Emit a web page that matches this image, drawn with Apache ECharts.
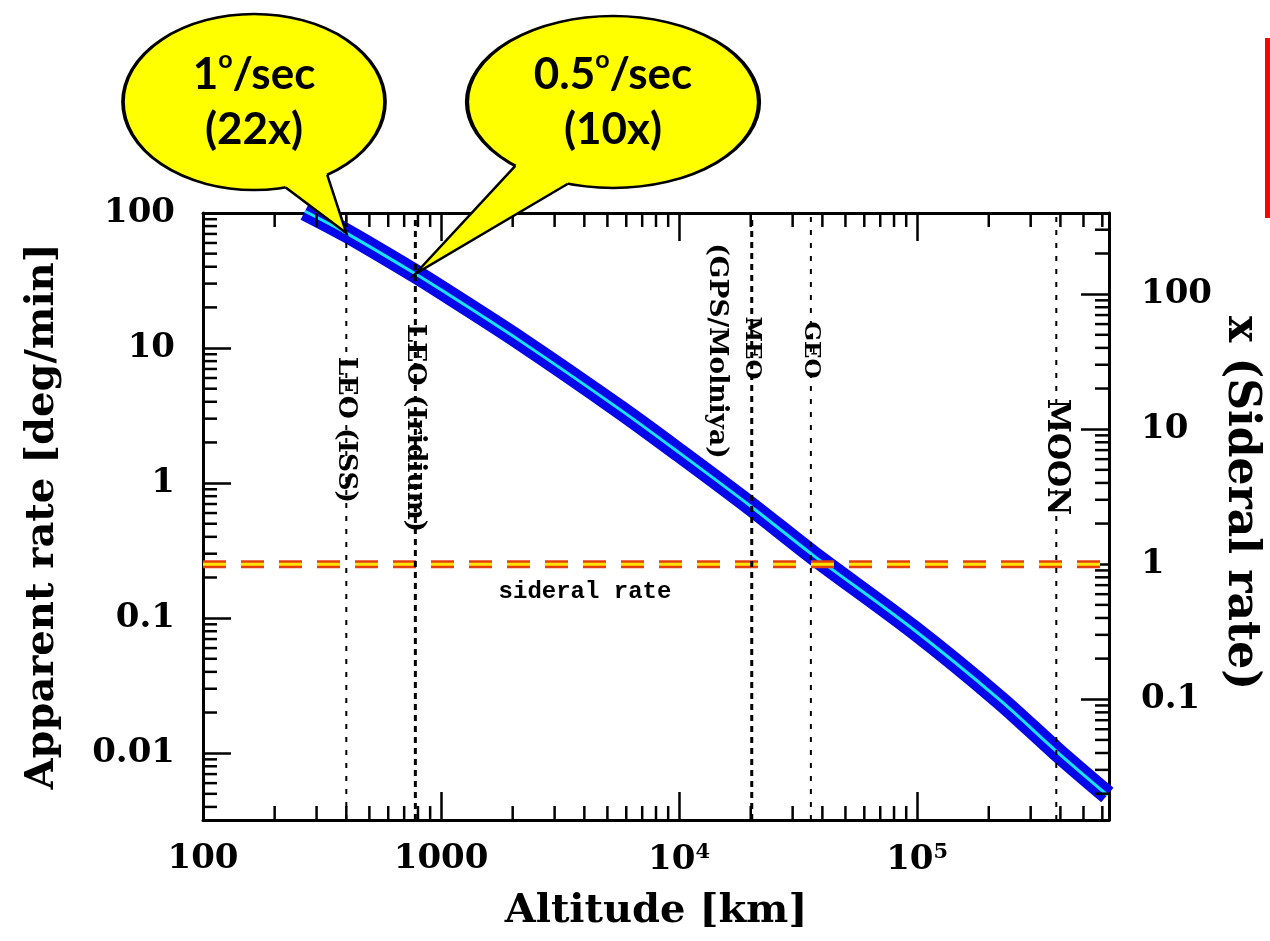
<!DOCTYPE html>
<html>
<head>
<meta charset="utf-8">
<script src="https://cdn.jsdelivr.net/npm/echarts@6/dist/echarts.min.js"></script>
<style>
html, body { margin: 0; padding: 0; background: #fff; }
#chart { width: 1270px; height: 941px; }
</style>
</head>
<body>
<div id="chart"></div>
<script>
// apparent rate of a satellite seen overhead vs altitude
var altitude = [268, 400, 770, 1000, 2150, 5650, 10000, 20300, 36500, 96000, 223000, 388000, 630000];
var rate = [103, 71, 36, 27, 11.3, 3.5, 1.68, 0.66, 0.293, 0.083, 0.0247, 0.0102, 0.0049];
var siderealRate = 0.2507; // deg/min

var orbitNames = ['LEO (ISS)', 'LEO (Iridium)', 'MEO', 'GEO', 'MOON'];
var orbitNotes = ['', '', '(GPS/Molniya)', '', ''];
var orbitAltitudes = [400, 780, 20200, 35786, 384400];

var xTickValues = [100, 1000, 1e4, 1e5];
var xTickLabels = ['100', '1000', '10{sup|4}', '10{sup|5}'];
var yTickValues = [0.01, 0.1, 1, 10, 100];
var yTickLabels = ['0.01', '0.1', '1', '10', '100'];
var rightTickValues = [0.1, 1, 10, 100];
var rightTickLabels = ['0.1', '1', '10', '100'];

var callouts = [
    { lines: ['1{sup|o}/sec', '(22x)'], target: [400, 71] },
    { lines: ['0.5{sup|o}/sec', '(10x)'], target: [780, 35.5] }
];

var xMin = 100, xMax = 640000, yMin = 0.0032, yMax = 100;

// styling / layout (not data)
var SERIF = "'DejaVu Serif'";
var boldOrbits = ['LEO (Iridium)', 'MEO'];
var orbitLabelY = [430, 428, 348, 350, 457];
var orbitLabelSize = [26.5, 26.5, 23, 23, 31];
var calloutShapes = [
    { cx: 254, cy: 102, rx: 131, ry: 88, a1: 76, a2: 56 },
    { cx: 613, cy: 102, rx: 146, ry: 86, a1: 132, a2: 108 }
];

function matchLabel(values, labels) {
    return function (v) {
        for (var i = 0; i < values.length; i++) {
            if (Math.abs(v / values[i] - 1) < 1e-6) return labels[i];
        }
        return '';
    };
}

function minorValues(lo, hi) {
    var out = [];
    for (var e = -3; e <= 6; e++) {
        for (var m = 2; m <= 9; m++) {
            var v = m * Math.pow(10, e);
            if (v > lo && v < hi) out.push(v);
        }
    }
    return out;
}

var chart = echarts.init(document.getElementById('chart'));

var tickStyle = { color: '#000', width: 2.5 };
var frameStyle = { color: '#000', width: 3 };
var labelStyle = { color: '#000', fontFamily: SERIF, fontSize: 34, fontWeight: 'bold',
    rich: { sup: { fontSize: 21, fontFamily: SERIF, fontWeight: 'bold', verticalAlign: 'top', padding: [0, 0, 16, 0] } } };
var nameStyle = { color: '#000', fontFamily: SERIF, fontSize: 40, fontWeight: 'bold' };

var series = [];
var curveData = altitude.map(function (a, i) { return [a, rate[i]]; });
series.push({ type: 'line', data: curveData, symbol: 'none', smooth: 0.3, clip: false, z: 5,
    lineStyle: { color: '#0606e8', width: 19 } });
series.push({ type: 'line', data: curveData, symbol: 'none', smooth: 0.3, clip: false, z: 6,
    lineStyle: { color: '#18e4ff', width: 3 } });

var sidData = [[xMin, siderealRate], [xMax, siderealRate]];
series.push({ type: 'line', data: sidData, symbol: 'none', z: 7,
    lineStyle: { color: '#e4400e', width: 8, type: [23, 15] } });
series.push({ type: 'line', data: sidData, symbol: 'none', z: 8,
    lineStyle: { color: '#ffe400', width: 3, type: [23, 15] } });

orbitNames.forEach(function (name, i) {
    var bold = boldOrbits.indexOf(name) >= 0;
    series.push({ type: 'line', name: name, data: [[orbitAltitudes[i], yMin], [orbitAltitudes[i], yMax]],
        symbol: 'none', z: 9,
        lineStyle: { color: '#000', width: bold ? 3 : 2, type: bold ? [6, 5] : [5, 8] } });
});

// minor ticks (log 2..9)
series.push({ type: 'custom', z: 10, silent: true,
    data: minorValues(xMin, xMax).map(function (v) { return [v, yMin]; }),
    renderItem: function (params, api) {
        var b = api.coord([api.value(0), yMin]);
        var t = api.coord([api.value(0), yMax]);
        return { type: 'group', children: [
            { type: 'line', shape: { x1: b[0], y1: b[1], x2: b[0], y2: b[1] - 14 }, style: { stroke: '#000', lineWidth: 2.5 } },
            { type: 'line', shape: { x1: t[0], y1: t[1], x2: t[0], y2: t[1] + 14 }, style: { stroke: '#000', lineWidth: 2.5 } }
        ] };
    } });
series.push({ type: 'custom', z: 10, silent: true,
    data: minorValues(yMin, yMax).map(function (v) { return [xMin, v]; }),
    renderItem: function (params, api) {
        var p = api.coord([xMin, api.value(1)]);
        return { type: 'line', shape: { x1: p[0], y1: p[1], x2: p[0] + 14, y2: p[1] }, style: { stroke: '#000', lineWidth: 2.5 } };
    } });
series.push({ type: 'custom', z: 10, silent: true, yAxisIndex: 1,
    data: minorValues(yMin / siderealRate, yMax / siderealRate).map(function (v) { return [xMax, v]; }),
    renderItem: function (params, api) {
        var p = api.coord([xMax, api.value(1)]);
        return { type: 'line', shape: { x1: p[0], y1: p[1], x2: p[0] - 14, y2: p[1] }, style: { stroke: '#000', lineWidth: 2.5 } };
    } });

chart.setOption({
    animation: false,
    backgroundColor: '#fff',
    grid: { left: 203, right: 161, top: 213, bottom: 121, containLabel: false },
    xAxis: [
        { type: 'log', min: xMin, max: xMax, position: 'bottom',
          axisLine: { lineStyle: frameStyle },
          axisTick: { inside: true, length: 28, lineStyle: tickStyle },
          axisLabel: Object.assign({ margin: 22, formatter: matchLabel(xTickValues, xTickLabels) }, labelStyle),
          splitLine: { show: false },
          name: 'Altitude [km]', nameLocation: 'middle', nameGap: 72, nameTextStyle: nameStyle },
        { type: 'log', min: xMin, max: xMax, position: 'top',
          axisLine: { lineStyle: frameStyle },
          axisTick: { inside: true, length: 28, lineStyle: tickStyle },
          axisLabel: { show: false }, splitLine: { show: false } }
    ],
    yAxis: [
        { type: 'log', min: yMin, max: yMax, position: 'left',
          axisLine: { lineStyle: frameStyle },
          axisTick: { inside: true, length: 28, lineStyle: tickStyle },
          axisLabel: Object.assign({ margin: 28, formatter: matchLabel(yTickValues, yTickLabels) }, labelStyle),
          splitLine: { show: false },
          name: 'Apparent rate [deg/min]', nameLocation: 'middle', nameGap: 140, nameTextStyle: nameStyle },
        { type: 'log', min: yMin / siderealRate, max: yMax / siderealRate, position: 'right',
          axisLine: { lineStyle: frameStyle },
          axisTick: { inside: true, length: 28, lineStyle: tickStyle },
          axisLabel: Object.assign({ margin: 32, formatter: matchLabel(rightTickValues, rightTickLabels) }, labelStyle),
          splitLine: { show: false } }
    ],
    series: series
});

// annotations placed from data coordinates
var graphics = [];
orbitNames.forEach(function (name, i) {
    var x = chart.convertToPixel({ xAxisIndex: 0 }, orbitAltitudes[i]);
    graphics.push({ type: 'text', x: x, y: orbitLabelY[i], rotation: -Math.PI / 2, z: 20,
        style: { text: name, fill: '#000', fontFamily: SERIF, fontSize: orbitLabelSize[i], fontWeight: 'bold',
            align: 'center', verticalAlign: 'middle' } });
    if (orbitNotes[i]) {
        graphics.push({ type: 'text', x: x - 35, y: orbitLabelY[i] + 3, rotation: -Math.PI / 2, z: 20,
            style: { text: orbitNotes[i], fill: '#000', fontFamily: SERIF, fontSize: 26.5, fontWeight: 'bold',
                align: 'center', verticalAlign: 'middle' } });
    }
});
var sidPx = chart.convertToPixel({ gridIndex: 0 }, [2000, siderealRate]);
graphics.push({ type: 'text', x: 585, y: sidPx[1] + 28, z: 20,
    style: { text: 'sideral rate', fill: '#000', fontFamily: "'Liberation Mono'", fontSize: 24, fontWeight: 'bold',
        align: 'center', verticalAlign: 'middle' } });

// right axis title
graphics.push({ type: 'text', x: 1240, y: 503, rotation: -Math.PI / 2, z: 20,
    style: { text: 'x (Sideral rate)', fill: '#000', fontFamily: SERIF, fontSize: 44, fontWeight: 'bold',
        align: 'center', verticalAlign: 'middle' } });

callouts.forEach(function (c, i) {
    var s = calloutShapes[i];
    var tip = chart.convertToPixel({ gridIndex: 0 }, c.target);
    function onEllipse(deg, inset) {
        var t = deg * Math.PI / 180;
        return [s.cx + (s.rx - inset) * Math.cos(t), s.cy + (s.ry - inset) * Math.sin(t)];
    }
    var b1 = onEllipse(s.a1, 0), b2 = onEllipse(s.a2, 0);
    var i1 = onEllipse(s.a1, 8), i2 = onEllipse(s.a2, 8);
    graphics.push({ type: 'circle', x: s.cx, y: s.cy, scaleX: s.rx / s.ry, z: 30,
        shape: { cx: 0, cy: 0, r: s.ry },
        style: { fill: '#ffff00', stroke: '#000', lineWidth: 2.5, strokeNoScale: true } });
    graphics.push({ type: 'polygon', z: 31, shape: { points: [i1, b1, tip, b2, i2] },
        style: { fill: '#ffff00' } });
    graphics.push({ type: 'polyline', z: 32, shape: { points: [b1, tip, b2] },
        style: { stroke: '#000', lineWidth: 2.5, fill: null } });
    graphics.push({ type: 'text', x: s.cx, y: s.cy, z: 33,
        style: { text: c.lines.join('\n'), fill: '#000', fontFamily: "'Lato'", fontSize: 44, fontWeight: 'bold',
            lineHeight: 55, align: 'center', verticalAlign: 'middle',
            rich: { sup: { fontSize: 25, fontFamily: "'Lato'", fontWeight: 'bold', verticalAlign: 'top', lineHeight: 55, padding: [0, 0, 20, 0] } } } });
});

graphics.push({ type: 'rect', z: 40, shape: { x: 1265, y: 38, width: 5, height: 180 }, style: { fill: '#ff0000' } });

chart.setOption({ graphic: graphics });
</script>
</body>
</html>
